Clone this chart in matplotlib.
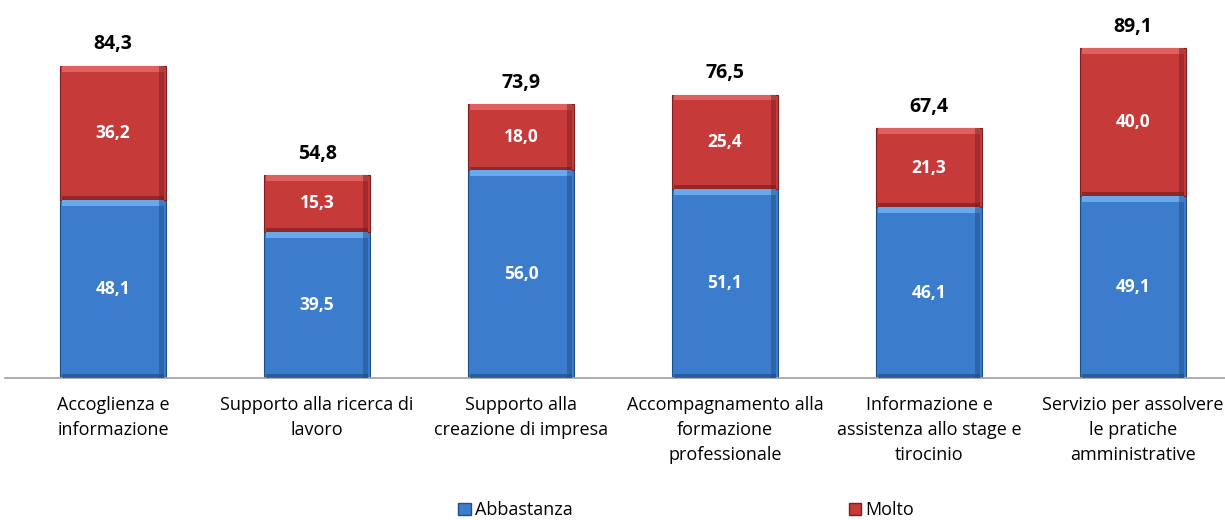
import matplotlib.pyplot as plt
from matplotlib.patches import Patch
import numpy as np

categories = ['Accoglienza e\ninformazione',
              'Supporto alla ricerca di\nlavoro',
              'Supporto alla\ncreazione di impresa',
              'Accompagnamento alla\nformazione\nprofessionale',
              'Informazione e\nassistenza allo stage e\ntirocinio',
              'Servizio per assolvere\nle pratiche\namministrative']
abbastanza = [48.1, 39.5, 56.0, 51.1, 46.1, 49.1]
molto = [36.2, 15.3, 18.0, 25.4, 21.3, 40.0]
totali = [84.3, 54.8, 73.9, 76.5, 67.4, 89.1]

def fmt(v):
    return f'{v:.1f}'.replace('.', ',')

plt.rcParams['font.family'] = ['Open Sans', 'DejaVu Sans']

fig = plt.figure(figsize=(12.25, 5.2), dpi=100)
ax = fig.add_axes([0.004, 0.273, 1.0, 0.727])

x = np.arange(len(categories))
w = 0.52
blue, red = '#3b7dcc', '#c73a3a'

def bevel_bar(xs, h, bottom, col, light, dark):
    ax.bar(xs, h, w, bottom=bottom, color=col, edgecolor=dark, linewidth=0.8, zorder=2)
    # light top strip and dark bottom strip for the bevel look
    ax.bar(xs, [1.6] * len(xs), w * 0.97, bottom=np.array(bottom) + np.array(h) - 1.6,
           color=light, linewidth=0, zorder=3)
    ax.bar(xs, [1.0] * len(xs), w * 0.97, bottom=bottom, color=dark, alpha=0.7, linewidth=0, zorder=3)
    ax.bar(xs + w * 0.46, h, w * 0.05, bottom=bottom, color=dark, alpha=0.5, linewidth=0, zorder=3)

bevel_bar(x, abbastanza, [0] * 6, blue, '#6aa8ec', '#1f4f8a')
bevel_bar(x, molto, abbastanza, red, '#e06060', '#7a2020')

for i in range(len(x)):
    ax.text(x[i], abbastanza[i] / 2, fmt(abbastanza[i]), ha='center', va='center',
            color='white', fontsize=12.5, fontweight='bold', zorder=5)
    ax.text(x[i], abbastanza[i] + molto[i] / 2, fmt(molto[i]), ha='center', va='center',
            color='white', fontsize=12.5, fontweight='bold', zorder=5)
    ax.text(x[i], totali[i] + 3.0, fmt(totali[i]), ha='center', va='bottom',
            color='black', fontsize=14, fontweight='bold', zorder=5)

ax.set_xlim(-0.53, 5.475)
ax.set_ylim(0, 102)
ax.set_yticks([])
ax.set_xticks(x)
ax.set_xticklabels(categories, fontsize=13, linespacing=1.5)
ax.tick_params(axis='x', length=0, pad=13)
for s in ['top', 'right', 'left']:
    ax.spines[s].set_visible(False)
ax.spines['bottom'].set_color('#a0a0a0')
ax.spines['bottom'].set_linewidth(1.2)

handles = [Patch(facecolor=blue, edgecolor='#1f4f8a', label='Abbastanza'),
           Patch(facecolor=red, edgecolor='#7a2020', label='Molto')]
fig.legend(handles=handles, loc='lower center', bbox_to_anchor=(0.56, -0.03), ncol=2,
           frameon=False, fontsize=13, handlelength=0.7, handleheight=0.7,
           handletextpad=0.2, columnspacing=15.3)

fig.savefig('out.png', dpi=100)
